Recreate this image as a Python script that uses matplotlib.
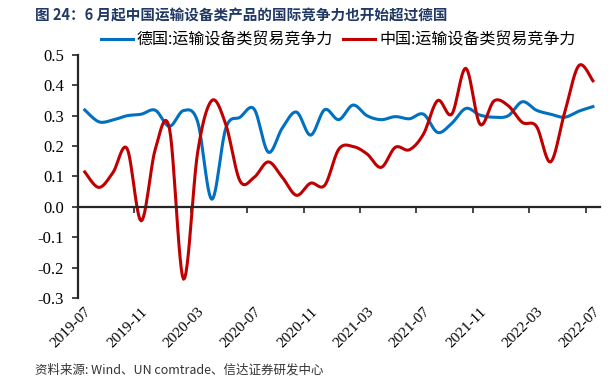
import matplotlib
matplotlib.use('Agg')
import matplotlib.pyplot as plt
import numpy as np

plt.rcParams['font.family'] = ['Noto Sans CJK SC', 'DejaVu Sans']
plt.rcParams['axes.unicode_minus'] = False

months = ['2019-07', '2019-08', '2019-09', '2019-10', '2019-11', '2019-12',
          '2020-01', '2020-02', '2020-03', '2020-04', '2020-05', '2020-06',
          '2020-07', '2020-08', '2020-09', '2020-10', '2020-11', '2020-12',
          '2021-01', '2021-02', '2021-03', '2021-04', '2021-05', '2021-06',
          '2021-07', '2021-08', '2021-09', '2021-10', '2021-11', '2021-12',
          '2022-01', '2022-02', '2022-03', '2022-04', '2022-05', '2022-06',
          '2022-07']

germany = [0.319, 0.28, 0.286, 0.30, 0.305, 0.318, 0.265, 0.317, 0.28, 0.025,
           0.26, 0.295, 0.322, 0.18, 0.26, 0.312, 0.236, 0.32, 0.287, 0.335,
           0.30, 0.287, 0.297, 0.29, 0.305, 0.245, 0.275, 0.324, 0.302, 0.295,
           0.30, 0.346, 0.318, 0.305, 0.295, 0.315, 0.33]

china = [0.115, 0.064, 0.113, 0.192, -0.046, 0.19, 0.258, -0.238, 0.18, 0.35,
         0.27, 0.085, 0.097, 0.148, 0.097, 0.038, 0.078, 0.071, 0.19, 0.199,
         0.174, 0.13, 0.196, 0.188, 0.24, 0.35, 0.305, 0.456, 0.272, 0.349,
         0.333, 0.278, 0.265, 0.148, 0.311, 0.465, 0.415]

label_de = '德国:运输设备类贸易竞争力'
label_cn = '中国:运输设备类贸易竞争力'
title = '图 24：6 月起中国运输设备类产品的国际竞争力也开始超过德国'
source = '资料来源: Wind、UN comtrade、信达证券研发中心'


def smooth(y, n=12):
    # catmull-rom curve through the points, like excel's smoothed line
    y = np.asarray(y, dtype=float)
    x = np.arange(len(y), dtype=float)
    xp = np.concatenate([[x[0]], x, [x[-1]]])
    yp = np.concatenate([[y[0]], y, [y[-1]]])
    xs, ys = [], []
    t = np.linspace(0, 1, n, endpoint=False)
    for i in range(1, len(xp) - 2):
        for arr, out in ((xp, xs), (yp, ys)):
            p0, p1, p2, p3 = arr[i - 1], arr[i], arr[i + 1], arr[i + 2]
            out.extend(0.5 * (2 * p1 + (-p0 + p2) * t
                              + (2 * p0 - 5 * p1 + 4 * p2 - p3) * t ** 2
                              + (-p0 + 3 * p1 - 3 * p2 + p3) * t ** 3))
    xs.append(x[-1])
    ys.append(y[-1])
    return np.array(xs), np.array(ys)


fig = plt.figure(figsize=(6.15, 3.79), dpi=100)
ax = fig.add_axes([0.1263, 0.2137, 0.8493, 0.6413])

xd, yd = smooth(germany)
xc, yc = smooth(china)
l1, = ax.plot(xd, yd, color='#0070C0', lw=2.2, label=label_de)
l2, = ax.plot(xc, yc, color='#C00000', lw=2.2, label=label_cn)

ax.set_xlim(-0.5, len(months) - 0.5)
ax.set_ylim(-0.3, 0.5)
ax.set_yticks(np.arange(-0.3, 0.51, 0.1))
ax.set_yticklabels(['%.1f' % v for v in np.arange(-0.3, 0.51, 0.1)],
                   family='Liberation Serif', fontsize=12)

for s in ['top', 'right']:
    ax.spines[s].set_visible(False)
ax.spines['bottom'].set_position(('data', 0))
ax.spines['bottom'].set_linewidth(1.6)
ax.spines['left'].set_linewidth(1.6)
ax.spines['bottom'].set_color('#262626')
ax.spines['left'].set_color('#262626')

ax.set_xticks(np.arange(3.5, len(months) - 0.5, 4))
ax.set_xticklabels([])
ax.tick_params(axis='x', direction='out', length=4, width=1.2, color='#262626')
ax.tick_params(axis='y', direction='out', length=4, width=1.2, color='#262626', pad=6)

sec = ax.secondary_xaxis('bottom')
idx = list(range(0, len(months), 4))
sec.set_xticks(idx)
sec.set_xticklabels([months[i] for i in idx], rotation=45, ha='right',
                    rotation_mode='anchor', family='Liberation Serif', fontsize=11)
sec.spines['bottom'].set_visible(False)
sec.tick_params(length=0, pad=5)

fig.legend(handles=[l1, l2], loc='center', bbox_to_anchor=(0.55, 0.894),
           ncol=2, frameon=False, fontsize=11.5, handlelength=2.0,
           columnspacing=0.6, handletextpad=0.25)

fig.text(0.057, 0.96, title, fontsize=10.5, fontweight='bold', color='#1F3864',
         va='center')
fig.text(0.057, 0.024, source, fontsize=9, style='italic', color='#333333',
         va='center')

fig.savefig('out.png', dpi=100)
